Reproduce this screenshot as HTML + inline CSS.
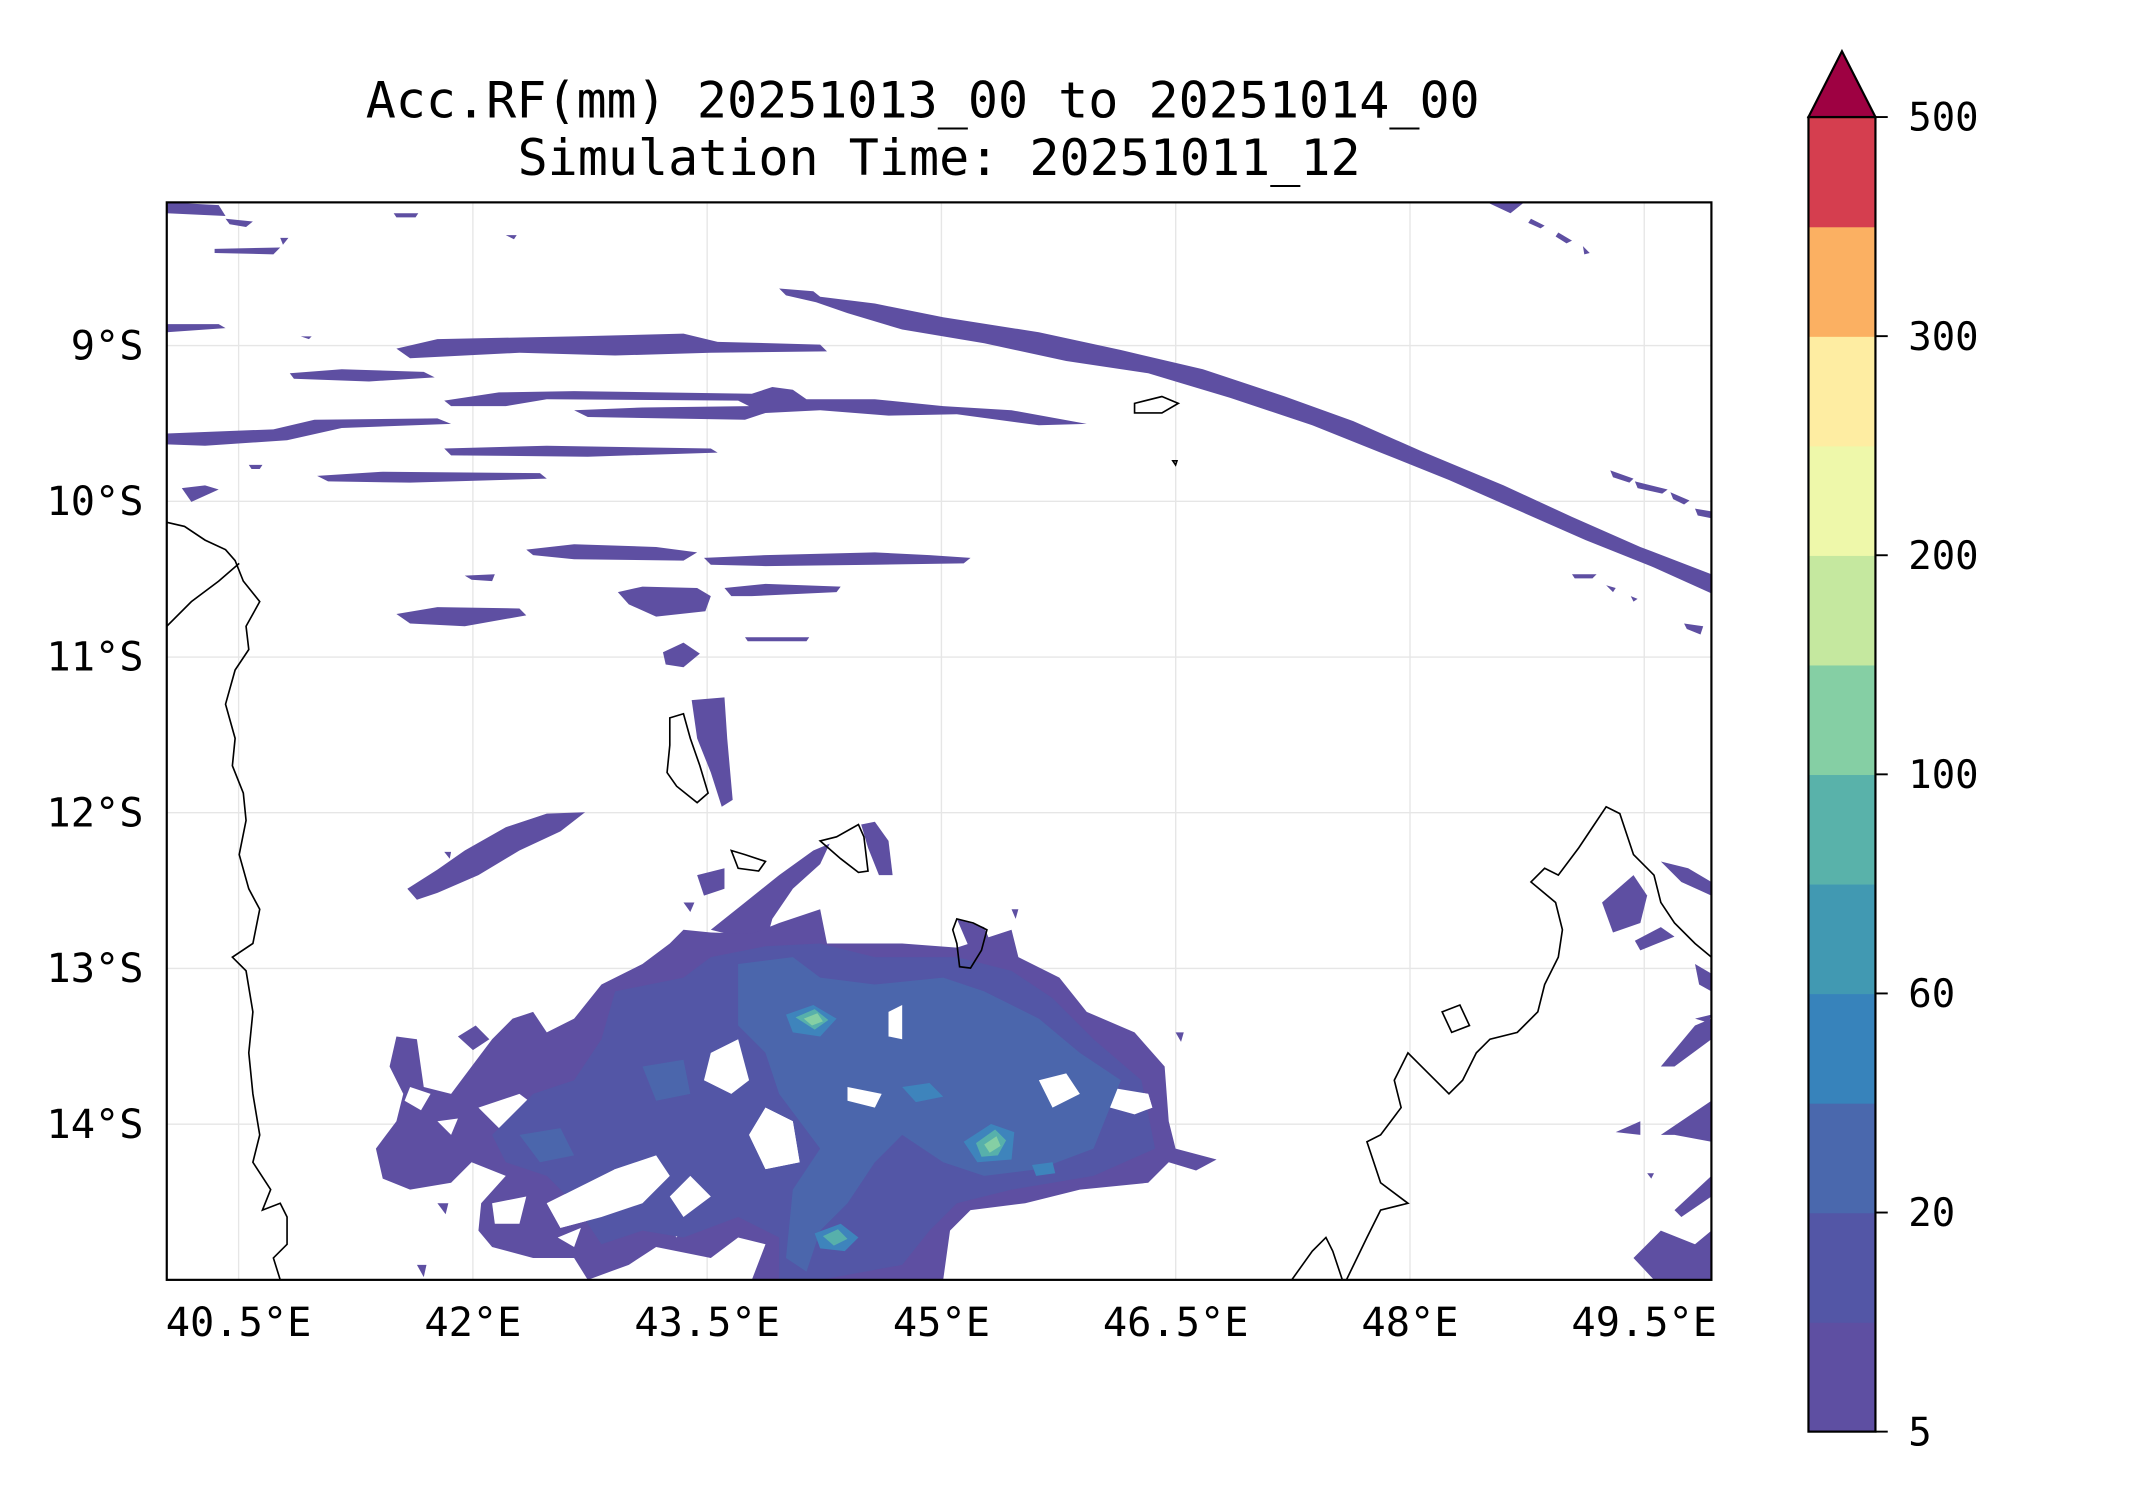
<!DOCTYPE html>
<html><head><meta charset="utf-8"><style>
html,body{margin:0;padding:0;background:#fff;}
svg{display:block;}
text{font-family:"DejaVu Sans Mono","Liberation Mono",monospace;fill:#000;}
</style></head><body>
<svg id="fig" width="2142" height="1500" viewBox="0 0 1567 1097" preserveAspectRatio="none" xmlns="http://www.w3.org/2000/svg">
<rect x="0" y="0" width="1567" height="1097" fill="#fff"/>
<text x="675" y="86" font-size="36.6" text-anchor="middle">Acc.RF(mm) 20251013_00 to 20251014_00</text>
<text x="687" y="128" font-size="36.6" text-anchor="middle">Simulation Time: 20251011_12</text>
<defs><clipPath id="mapclip"><rect x="122" y="148" width="1130" height="788"/></clipPath></defs>
<g id="grid"></g>
<g clip-path="url(#mapclip)">
<g fill="#5e4fa2">
<polygon points="122,148 160,150 165,158 122,156"/>
<polygon points="165,160 185,162 180,166 168,164"/>
<polygon points="157,182 205,181 200,186 157,185"/>
<polygon points="205,174 211,174 207,179"/>
<polygon points="288,156 306,156 304,159 290,159"/>
<polygon points="370,172 378,172 376,175"/>
<polygon points="122,237 160,237 165,240 122,243"/>
<polygon points="220,246 228,246 226,248"/>
<polygon points="290,255 320,248 420,246 500,244 525,250 600,252 605,257 520,258 450,260 380,258 300,262"/>
<polygon points="212,273 250,270 310,272 318,276 270,279 215,277"/>
<polygon points="325,293 365,287 420,286 550,288 565,283 580,285 590,292 640,292 690,297 740,300 795,310 760,311 700,303 650,304 600,300 560,302 545,307 430,305 420,300 470,298 548,297 540,293 400,292 370,297 330,297"/>
<polygon points="122,317 200,314 230,307 320,306 330,310 250,313 210,322 150,326 122,325"/>
<polygon points="325,328 400,326 520,328 525,331 430,334 330,333"/>
<polygon points="182,340 192,340 190,343 184,343"/>
<polygon points="232,348 280,345 395,346 400,350 300,353 240,352"/>
<polygon points="133,357 150,355 160,358 140,367"/>
<polygon points="570,211 595,213 600,217 640,222 690,232 760,243 820,256 880,270 940,290 990,308 1040,330 1100,355 1150,378 1200,400 1252,420 1252,434 1210,415 1160,395 1110,373 1060,351 1010,331 960,311 900,291 840,273 780,264 720,251 660,241 620,229 597,221 575,216"/>
<polygon points="1178,344 1195,350 1192,353 1180,349"/>
<polygon points="1196,352 1220,358 1216,361 1198,357"/>
<polygon points="1222,360 1236,366 1232,369 1224,365"/>
<polygon points="1240,372 1252,374 1252,379 1242,377"/>
<polygon points="1088,148 1115,148 1105,156"/>
<polygon points="1120,160 1130,165 1127,167 1118,163"/>
<polygon points="1140,170 1150,176 1146,178 1138,173"/>
<polygon points="1158,180 1163,185 1159,186"/>
<polygon points="1150,420 1168,420 1165,423 1152,423"/>
<polygon points="1175,428 1182,430 1180,433"/>
<polygon points="1193,436 1198,438 1195,440"/>
<polygon points="1232,456 1246,458 1244,464 1234,460"/>
<polygon points="385,402 420,398 480,400 510,404 500,410 420,409 390,406"/>
<polygon points="515,408 560,406 640,404 680,406 710,408 705,412 640,413 560,414 520,413"/>
<polygon points="340,421 362,420 360,425 345,424"/>
<polygon points="290,449 320,444 380,445 385,450 340,458 300,456"/>
<polygon points="452,433 470,429 510,430 520,436 516,447 480,451 460,442"/>
<polygon points="530,430 560,427 615,429 612,433 550,436 535,436"/>
<polygon points="485,477 500,470 512,478 500,488 487,486"/>
<polygon points="545,466 592,466 590,469 547,469"/>
<polygon points="506,512 530,510 532,540 536,585 528,590 520,565 510,540"/>
<polygon points="298,650 320,636 340,622 370,605 400,595 428,594 410,608 380,622 350,640 320,653 305,658"/>
<polygon points="325,623 330,623 329,628"/>
<polygon points="630,603 640,601 650,615 653,640 643,640 635,620"/>
<polygon points="520,680 545,660 570,640 595,622 607,617 600,632 580,650 565,672 560,690"/>
<polygon points="510,640 530,635 530,650 515,655"/>
<polygon points="500,660 508,660 505,667"/>
<polygon points="490,690 500,680 520,682 550,683 570,675 600,665 605,690 660,690 700,693 740,680 745,700 775,715 795,740 830,755 852,780 855,820 860,840 890,848 875,856 855,850 840,865 790,870 750,880 710,885 695,900 690,936 640,936 580,936 550,936 560,910 540,905 520,920 480,912 460,925 430,936 420,920 390,920 360,912 350,900 352,880 370,860 345,850 330,865 300,870 280,862 275,840 290,820 295,800 285,780 290,758 305,760 310,795 330,800 345,780 360,760 375,745 390,740 400,755 420,745 440,720 470,705"/>
<polygon points="335,758 348,750 358,760 346,768"/>
<polygon points="320,880 328,880 326,888"/>
<polygon points="305,925 312,925 310,934"/>
<polygon points="860,755 866,755 864,762"/>
<polygon points="740,665 745,665 743,672"/>
<polygon points="700,672 720,678 725,690 712,700"/>
<polygon points="1172,660 1195,640 1205,655 1200,675 1180,682"/>
<polygon points="1215,630 1235,635 1252,645 1252,655 1230,645"/>
<polygon points="1196,688 1215,678 1225,685 1200,695"/>
<polygon points="1240,705 1252,712 1252,725 1243,720"/>
<polygon points="1215,780 1240,750 1252,745 1252,760 1225,780"/>
<polygon points="1240,745 1252,742 1250,748"/>
<polygon points="1182,828 1200,820 1200,830"/>
<polygon points="1215,830 1252,805 1252,835 1225,830"/>
<polygon points="1225,885 1252,860 1252,875 1230,890"/>
<polygon points="1195,920 1215,900 1240,910 1252,900 1252,936 1210,936"/>
<polygon points="1205,858 1210,858 1208,862"/>
</g>
<g fill="#fff">
<polygon points="810,795 840,800 843,810 830,815 805,808"/>
<polygon points="450,855 480,845 490,860 470,880 440,890 410,898 400,880"/>
<polygon points="520,770 540,760 548,790 535,800 515,790"/>
<polygon points="560,810 580,820 585,850 560,855 548,830"/>
<polygon points="620,795 645,800 640,810 620,805"/>
<polygon points="650,740 660,735 660,760 650,758"/>
<polygon points="530,710 550,713 540,725"/>
<polygon points="350,810 380,800 400,815 370,830"/>
<polygon points="505,860 520,875 500,890 490,875"/>
<polygon points="455,770 470,765 468,778"/>
<polygon points="300,795 315,800 308,812 296,805"/>
<polygon points="320,820 335,818 330,830"/>
<polygon points="408,905 425,898 420,912"/>
<polygon points="360,880 385,875 380,895 362,895"/>
<polygon points="760,790 780,785 790,800 770,810"/>
<polygon points="480,885 505,890 495,905"/>
</g>
<g fill="#5356a6">
<polygon points="450,725 500,715 520,700 560,692 600,690 640,700 700,700 740,710 770,730 800,760 835,790 845,840 800,860 740,870 700,880 680,900 660,925 600,936 570,936 570,905 540,890 500,905 470,900 440,910 420,880 400,860 370,850 360,830 390,800 420,790 440,760"/>
</g>
<g fill="#fff">
<polygon points="450,855 480,845 490,860 470,880 440,890 410,898 400,880"/>
<polygon points="520,770 540,760 548,790 535,800 515,790"/>
<polygon points="560,810 580,820 585,850 560,855 548,830"/>
<polygon points="620,795 645,800 640,810 620,805"/>
<polygon points="650,740 660,735 660,760 650,758"/>
<polygon points="810,795 840,800 843,810 830,815 805,808"/>
<polygon points="505,860 520,875 500,890 490,875"/>
<polygon points="760,790 780,785 790,800 770,810"/>
</g>
<g fill="#4b66ac">
<polygon points="540,705 580,700 600,715 640,720 690,715 720,725 760,745 790,770 820,790 800,840 760,855 720,860 690,850 660,830 640,850 620,880 600,900 590,930 575,920 580,870 600,840 570,800 560,770 540,750"/>
<polygon points="380,830 410,825 420,845 395,850"/>
<polygon points="470,780 500,775 505,800 480,805"/>
</g>
<g fill="#fff">
<polygon points="620,795 645,800 640,810 620,805"/>
<polygon points="650,740 660,735 660,760 650,758"/>
<polygon points="560,810 580,820 585,850 560,855 548,830"/>
<polygon points="760,790 780,785 790,800 770,810"/>
</g>
<g fill="#3e84bc">
<polygon points="575,742 595,735 612,745 600,758 580,755"/>
<polygon points="705,835 725,822 742,828 740,848 715,850"/>
<polygon points="596,902 615,895 628,905 618,915 600,913"/>
<polygon points="660,795 680,792 690,802 670,806"/>
<polygon points="755,852 770,850 772,858 758,860"/>
</g>
<g fill="#57b0ab"><polygon points="582,744 596,738 606,746 596,753"/><polygon points="714,836 728,826 736,834 730,845 718,846"/><polygon points="602,904 613,899 620,906 610,911"/></g>
<g fill="#85cfa4"><polygon points="588,745 598,741 602,747 594,750"/><polygon points="720,837 729,831 732,838 724,843"/></g>
<g fill="none" stroke="#000" stroke-width="1.2">
<polyline points="122,382 135,385 150,395 165,402 172,410 178,425 190,440 180,458 182,475 172,490 165,515 172,540 170,560 178,580 180,600 175,625 182,650 190,665 185,690 170,700 180,710 185,740 182,770 185,800 190,830 185,850 198,870 192,885 205,880 210,890 210,910 200,920 205,936"/>
<polyline points="122,458 140,440 160,425 175,412"/>
<polyline points="945,936 960,915 970,905 975,915 982,936"/>
<polyline points="985,936 1000,905 1010,885 1030,880 1010,865 1005,850 1000,835 1010,830 1025,810 1020,790 1030,770 1040,780 1050,790 1060,800 1070,790 1080,770 1090,760 1110,755 1125,740 1130,720 1140,700 1143,680 1138,660 1120,645 1130,635 1140,640 1155,620 1165,605 1175,590 1185,595 1190,610 1195,625 1210,640 1215,660 1225,675 1240,690 1252,700"/>
<polygon points="1055,740 1068,735 1075,750 1062,755"/>
<polygon points="490,525 500,522 505,540 512,560 518,580 510,587 495,575 488,565 490,545"/>
<polygon points="535,622 545,625 560,630 555,637 540,635"/>
<polygon points="600,615 612,612 628,603 632,612 635,637 628,638 615,628"/>
<polygon points="700,672 712,675 722,680 718,695 710,708 702,707 700,690 697,680"/>
<polygon points="830,295 850,290 862,295 850,302 830,302"/>
<polygon points="858,337 861,337 860,340"/>
</g>
</g>
<rect x="122" y="148" width="1130" height="788" fill="none" stroke="#000" stroke-width="1.6"/>
<g id="axes"></g>
<g id="cbar"></g>
</svg>
<script>
const lonTicks = [40.5, 42, 43.5, 45, 46.5, 48, 49.5];
const latTicks = [9, 10, 11, 12, 13, 14];
const cbarLevels = [5, 10, 20, 40, 60, 80, 100, 150, 200, 250, 300, 400, 500];
const cbarColors = ["#5e4fa2","#5356a6","#4a68ad","#3783bb","#4199b2","#59b2aa","#85cfa4","#c5e89f","#eef8aa","#feeda2","#fbb062","#d53e4f"];
const cbarTickLabels = ["5","20","60","100","200","300","500"];
const extendColor = "#9e0142";
const NS = "http://www.w3.org/2000/svg";
const lon0 = 40.04, lon1 = 49.93, lat0 = 8.08, lat1 = 15.0;
function xLon(v){ return 122 + (v - lon0) / (lon1 - lon0) * 1130; }
function yLat(v){ return 148 + (v - lat0) / (lat1 - lat0) * 788; }
function mk(tag, attrs, parent){ const e=document.createElementNS(NS,tag); for(const k in attrs) e.setAttribute(k, attrs[k]); parent.appendChild(e); return e; }
const grid=document.getElementById('grid'), axes=document.getElementById('axes'), cb=document.getElementById('cbar');
lonTicks.forEach(v=>{
  const x=xLon(v);
  const g=mk('line',{x1:x,x2:x,y1:148,y2:936,stroke:'#e6e6e6','stroke-width':1},grid);
  
  
  const t=mk('text',{x:x,y:977,'font-size':29.5,'text-anchor':'middle'},axes);
  t.textContent=v+'°E';
  
  
});
latTicks.forEach(v=>{
  const y=yLat(v);
  const g=mk('line',{x1:122,x2:1252,y1:y,y2:y,stroke:'#e6e6e6','stroke-width':1},grid);
  
  
  const t=mk('text',{x:105,y:y+10,'font-size':29.5,'text-anchor':'end'},axes);
  t.textContent=v+'°S';
  
  
});
const cx0=1323, cx1=1372, cTop=85.6, cBot=1047;
const nb=cbarColors.length, bh=(cBot-cTop)/nb;
cbarColors.forEach((c,i)=>{
  const r=mk('rect',{x:cx0,y:cBot-(i+1)*bh,width:cx1-cx0,height:bh+0.5,fill:c},cb);
  
  
});
const tri=mk('polygon',{points:`${cx0},${cTop} ${(cx0+cx1)/2},37.5 ${cx1},${cTop}`,fill:extendColor,stroke:'#000','stroke-width':1.6},cb);


const fr=mk('rect',{x:cx0,y:cTop,width:cx1-cx0,height:cBot-cTop,fill:'none',stroke:'#000','stroke-width':1.6},cb);


cbarTickLabels.forEach(lbl=>{
  const idx=cbarLevels.indexOf(Number(lbl));
  const y=cBot-idx*bh;
  mk('line',{x1:cx1,x2:cx1+9,y1:y,y2:y,stroke:'#000','stroke-width':1.4},cb);
  const t=mk('text',{x:cx1+24,y:y+10,'font-size':28.5},cb);
  t.textContent=lbl;
  
  
});
</script>
</body></html>
